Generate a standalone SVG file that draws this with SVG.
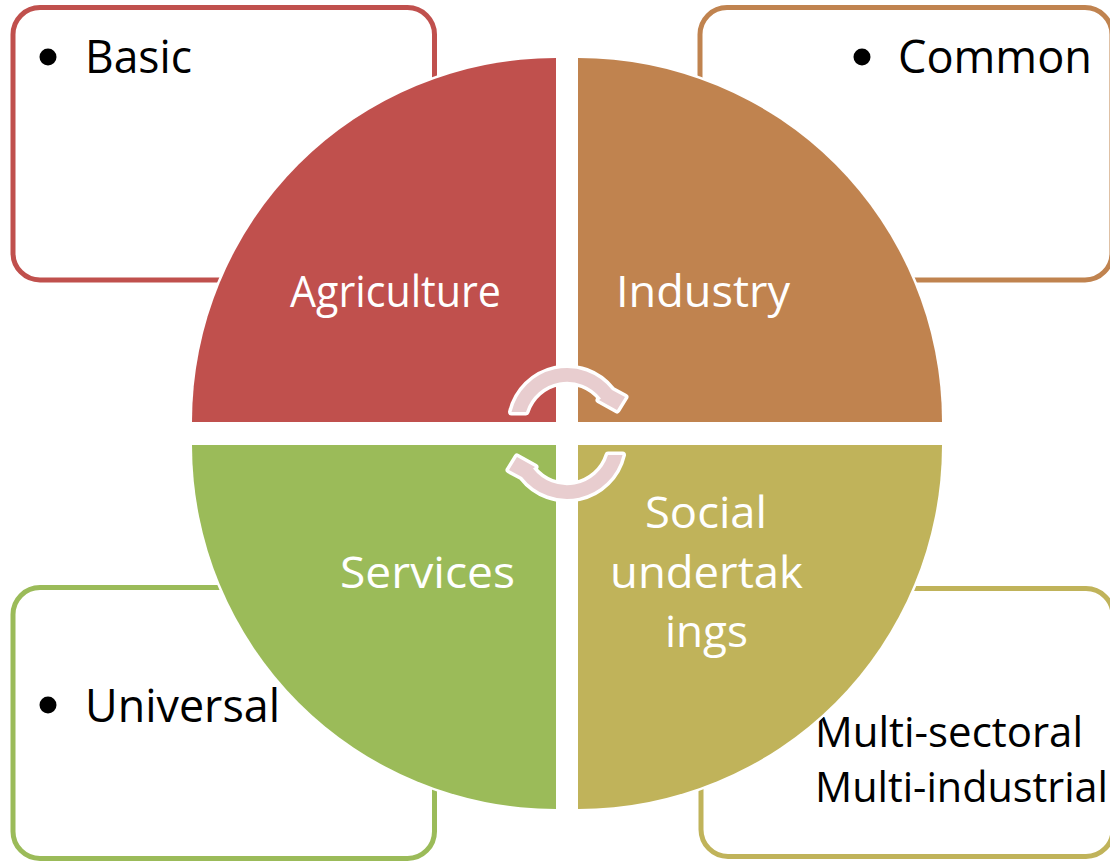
<svg xmlns="http://www.w3.org/2000/svg" width="1110" height="862" viewBox="0 0 1110 862">
<style>
.box{fill:#fff;stroke-width:5}
.q{stroke:#fff;stroke-width:5;paint-order:stroke;stroke-linejoin:miter}
.lbl{font-family:"Open Sans","Liberation Sans",sans-serif;font-size:44px;fill:#fff}
.txt{font-family:"Open Sans","Liberation Sans",sans-serif;font-size:46px;fill:#000}
.txt2{font-family:"Open Sans","Liberation Sans",sans-serif;font-size:41.5px;fill:#000}
.arr{fill:#E8CDCF;stroke:#fff;stroke-width:7;paint-order:stroke;stroke-linejoin:round}
</style>
<rect width="1110" height="862" fill="#fff"/>
<g id="box-basic">
<rect class="box" x="13" y="7.5" width="421.5" height="272.5" rx="27" stroke="#C0504D"/>
<circle cx="48" cy="57" r="8.5" fill="#000"/>
<text class="txt" x="85" y="73" textLength="107" lengthAdjust="spacingAndGlyphs">Basic</text>
</g>
<g id="box-common">
<rect class="box" x="700" y="7.5" width="412" height="272.5" rx="27" stroke="#C0834F"/>
<circle cx="862" cy="57" r="8.5" fill="#000"/>
<text class="txt" x="898" y="73" textLength="194" lengthAdjust="spacingAndGlyphs">Common</text>
</g>
<g id="box-universal">
<rect class="box" x="13" y="587.5" width="421.5" height="271" rx="27" stroke="#9BBB59"/>
<circle cx="48" cy="705" r="8.5" fill="#000"/>
<text class="txt" x="85" y="722" textLength="195" lengthAdjust="spacingAndGlyphs">Universal</text>
</g>
<g id="box-multi">
<rect class="box" x="701" y="588.5" width="412" height="268" rx="27" stroke="#C0B35A"/>
<text class="txt2" x="815" y="747" textLength="268" lengthAdjust="spacingAndGlyphs">Multi-sectoral</text>
<text class="txt2" x="815" y="802" textLength="293" lengthAdjust="spacingAndGlyphs">Multi-industrial</text>
</g>
<g id="q-agriculture">
<path class="q" fill="#C0504D" d="M556,422 L192,422 A364,364 0 0 1 556,58 Z"/>
<text class="lbl" x="290" y="307" textLength="211" lengthAdjust="spacingAndGlyphs">Agriculture</text>
</g>
<g id="q-industry">
<path class="q" fill="#C0834F" d="M578,422 L578,58 A364,364 0 0 1 942,422 Z"/>
<text class="lbl" x="616" y="307" textLength="174" lengthAdjust="spacingAndGlyphs">Industry</text>
</g>
<g id="q-services">
<path class="q" fill="#9BBB59" d="M556,445 L556,809 A364,364 0 0 1 192,445 Z"/>
<text class="lbl" x="340" y="588" textLength="175" lengthAdjust="spacingAndGlyphs">Services</text>
</g>
<g id="q-social">
<path class="q" fill="#C0B35A" d="M578,445 L942,445 A364,364 0 0 1 578,809 Z"/>
<text class="lbl" x="645" y="528" textLength="122" lengthAdjust="spacingAndGlyphs">Social</text>
<text class="lbl" x="610" y="588" textLength="193" lengthAdjust="spacingAndGlyphs">undertak</text>
<text class="lbl" x="665" y="647" textLength="83" lengthAdjust="spacingAndGlyphs">ings</text>
</g>
<g id="connectors">
<path id="arrow-top" class="arr" d="M511.5,412 A57,57 0 0 1 612,390 L625,397 L617,410 L599,400 L601,398.5 A43,43 0 0 0 526,412 Z"/>
<path id="arrow-bottom" class="arr" transform="rotate(180 567 433.5)" d="M511.5,412 A57,57 0 0 1 612,390 L625,397 L617,410 L599,400 L601,398.5 A43,43 0 0 0 526,412 Z"/>
</g>
</svg>
